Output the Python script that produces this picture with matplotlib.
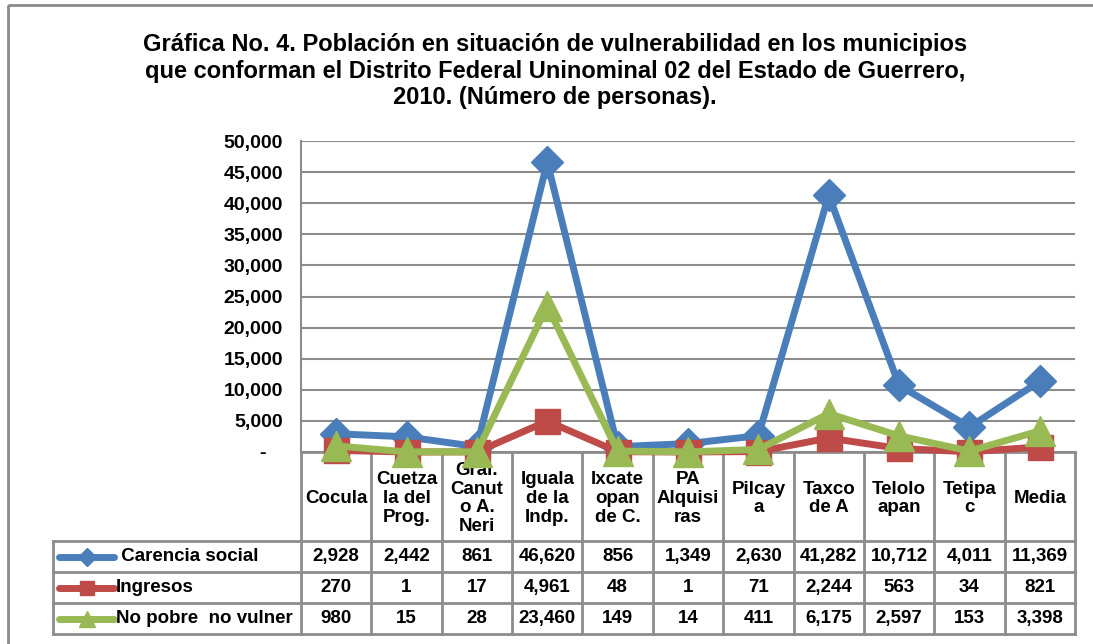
import matplotlib.pyplot as plt
from matplotlib.lines import Line2D
from matplotlib.patches import Rectangle

plt.rcParams['font.family'] = ['Liberation Sans', 'DejaVu Sans']
plt.rcParams['font.weight'] = 'bold'

# data
municipios = ["Cocula", "Cuetza\nla del\nProg.", "Gral.\nCanut\no A.\nNeri", "Iguala\nde la\nIndp.",
              "Ixcate\nopan\nde C.", "PA\nAlquisi\nras", "Pilcay\na", "Taxco\nde A",
              "Telolo\napan", "Tetipa\nc", "Media"]
carencia_social = [2928, 2442, 861, 46620, 856, 1349, 2630, 41282, 10712, 4011, 11369]
ingresos = [270, 1, 17, 4961, 48, 1, 71, 2244, 563, 34, 821]
no_pobre = [980, 15, 28, 23460, 149, 14, 411, 6175, 2597, 153, 3398]
series_names = [" Carencia social", "Ingresos", "No pobre  no vulner"]
y_ticks = [0, 5000, 10000, 15000, 20000, 25000, 30000, 35000, 40000, 45000, 50000]

title = ("Gráfica No. 4. Población en situación de vulnerabilidad en los municipios\n"
         "que conforman el Distrito Federal Uninominal 02 del Estado de Guerrero,\n"
         "2010. (Número de personas).")

BLUE = '#4a7ebb'
RED = '#be4b48'
GREEN = '#98b954'
GRID = '#8c8c8c'

W, H = 1093, 644
fig = plt.figure(figsize=(W / 100, H / 100), dpi=100)

# pixel geometry of the plot area and table
px_left, px_right = 301, 1075
px_top, px_axis = 141, 452
px_head_bot = 541
row_h = 31
px_leg_left = 53

ax = fig.add_axes([px_left / W, 1 - px_axis / H, (px_right - px_left) / W, (px_axis - px_top) / H])

n = len(municipios)
x = list(range(n))
styles = [(carencia_social, BLUE, 'D', 16), (ingresos, RED, 's', 18), (no_pobre, GREEN, '^', 22)]
for vals, col, mk, ms in styles:
    ax.plot(x, vals, color=col, lw=5, marker=mk, markersize=ms, markeredgecolor=col,
            clip_on=False, zorder=3, solid_joinstyle='round')

ax.set_xlim(-0.5, n - 0.5)
ax.set_ylim(0, 50000)
ax.set_yticks(y_ticks)
ax.set_yticklabels(["-   "] + [f"{v:,}" for v in y_ticks[1:]], fontsize=14, fontweight='bold')
ax.tick_params(axis='y', length=0, pad=13)
ax.set_xticks([])
ax.grid(axis='y', color=GRID, lw=1.5)
ax.set_axisbelow(True)
for s in ['top', 'right', 'bottom']:
    ax.spines[s].set_visible(False)
ax.spines['left'].set_color(GRID)
ax.spines['left'].set_linewidth(1.5)

# overlay in pixel coordinates for title, border and data table
ov = fig.add_axes([0, 0, 1, 1], zorder=-1)
ov.set_xlim(0, W)
ov.set_ylim(H, 0)
ov.axis('off')
ov.add_patch(Rectangle((8, 5), W + 20, H + 20, fill=False, ec='#8a8a8a', lw=2))
ov.text(555, 71, title, ha='center', va='center', fontsize=17, fontweight='bold',
        linespacing=1.17)

tab = fig.add_axes([0, 0, 1, 1], zorder=-0.5)
tab.set_xlim(0, W)
tab.set_ylim(H, 0)
tab.axis('off')
col_w = (px_right - px_left) / n
lc = '#8c8c8c'
# header row vertical lines
for i in range(n + 1):
    xx = px_left + i * col_w
    tab.plot([xx, xx], [px_axis, px_head_bot + 3 * row_h], color=lc, lw=2)
tab.plot([px_left, px_right], [px_axis, px_axis], color=lc, lw=2)
for i, name in enumerate(municipios):
    tab.text(px_left + (i + 0.5) * col_w, (px_axis + px_head_bot) / 2 + 2, name, ha='center',
             va='center', fontsize=13.5, fontweight='bold', linespacing=1.12)
# data rows
for r in range(4):
    yy = px_head_bot + r * row_h
    tab.plot([px_leg_left, px_right], [yy, yy], color=lc, lw=2)
tab.plot([px_leg_left, px_leg_left], [px_head_bot, px_head_bot + 3 * row_h], color=lc, lw=2)
table_rows = [carencia_social, ingresos, no_pobre]
for r, (vals, (_, col, mk, ms)) in enumerate(zip(table_rows, styles)):
    yc = px_head_bot + (r + 0.5) * row_h
    tab.add_line(Line2D([59, 114], [yc, yc], color=col, lw=5, solid_capstyle='round'))
    tab.plot([86.5], [yc], marker=mk, color=col, markersize=ms * 0.55)
    tab.text(116, yc, series_names[r], ha='left', va='center', fontsize=13.5, fontweight='bold')
    for i, v in enumerate(vals):
        tab.text(px_left + (i + 0.5) * col_w, yc, f"{v:,}", ha='center', va='center',
                 fontsize=13.5, fontweight='bold')

fig.savefig('out.png', dpi=100)
